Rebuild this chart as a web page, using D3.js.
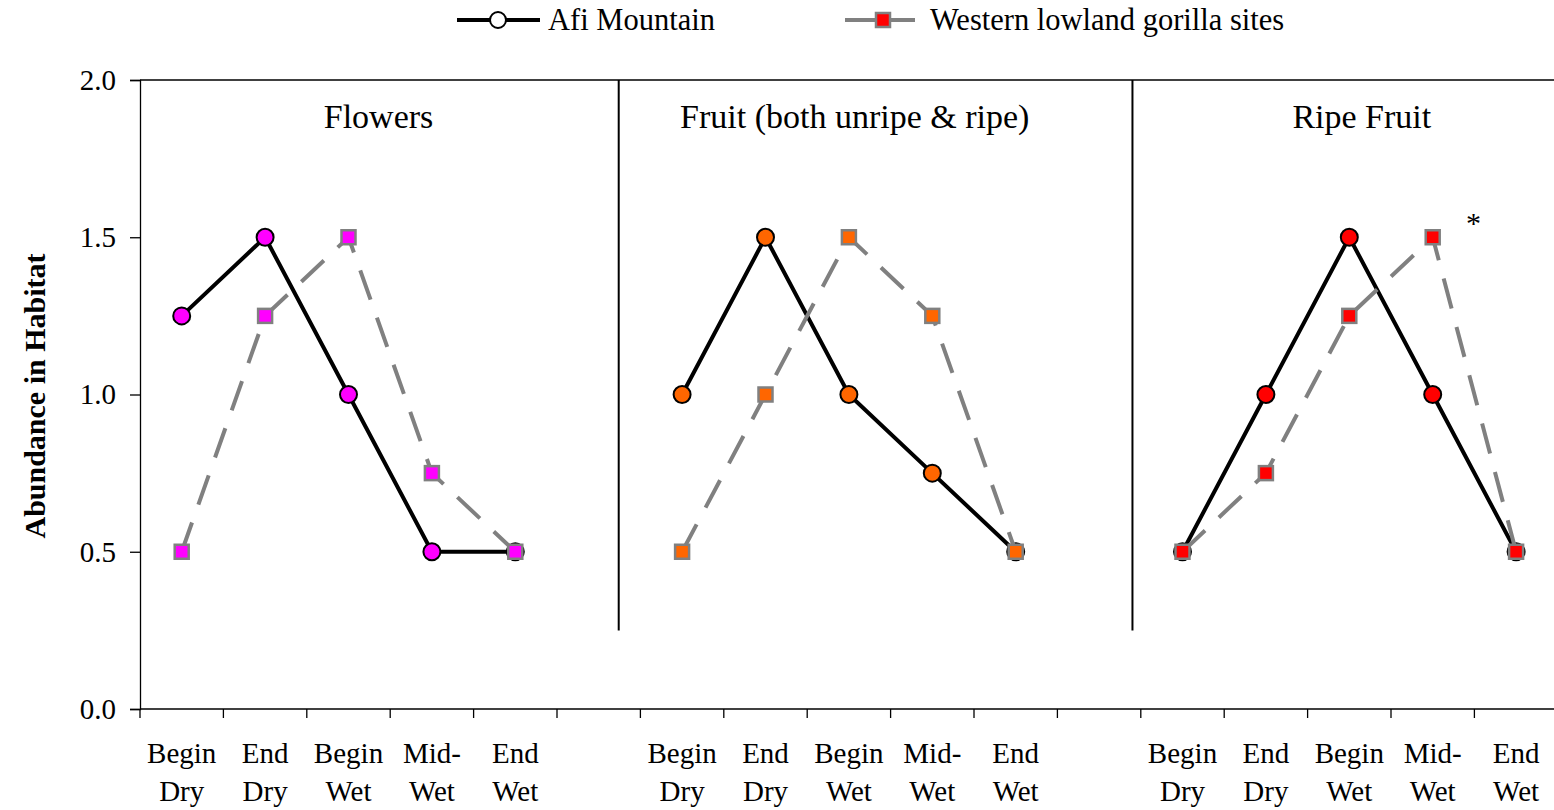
<!DOCTYPE html>
<html>
<head>
<meta charset="utf-8">
<script src="https://cdn.jsdelivr.net/npm/d3@7"></script>
<style>
  html, body { margin: 0; padding: 0; background: #fff; }
  svg { display: block; font-family: "Liberation Serif", "Times New Roman", serif; }
</style>
</head>
<body>
<svg id="chart" width="1554" height="810"></svg>
<script>
// Seasons shown under each panel (two-line labels)
const seasons = [["Begin", "Dry"], ["End", "Dry"], ["Begin", "Wet"], ["Mid-", "Wet"], ["End", "Wet"]];

// Panels: title, marker colour, and the two series
const panelTitles = ["Flowers", "Fruit (both unripe & ripe)", "Ripe Fruit"];
const panelColors = ["#ff00ff", "#ff6600", "#ff0000"];

const afiFlowers = [1.25, 1.5, 1.0, 0.5, 0.5];
const wlgFlowers = [0.5, 1.25, 1.5, 0.75, 0.5];
const afiFruit   = [1.0, 1.5, 1.0, 0.75, 0.5];
const wlgFruit   = [0.5, 1.0, 1.5, 1.25, 0.5];
const afiRipe    = [0.5, 1.0, 1.5, 1.0, 0.5];
const wlgRipe    = [0.5, 0.75, 1.25, 1.5, 0.5];

const afiSeries = [afiFlowers, afiFruit, afiRipe];
const wlgSeries = [wlgFlowers, wlgFruit, wlgRipe];

const yTicks = [0.0, 0.5, 1.0, 1.5, 2.0];
const seriesNames = ["Afi Mountain", "Western lowland gorilla sites"];

// Category slots: 5 seasons, a spacer, 5 seasons, a spacer, 5 seasons
const slots = d3.range(17);
const panelStart = [0, 6, 12];

const svg = d3.select("#chart");
const plotLeft = 140, plotTop = 80, plotBottom = 709;
const bandW = 83.4;
const plotRight = plotLeft + bandW * 17;

const x = d3.scaleBand().domain(slots).range([plotLeft, plotRight]).paddingInner(0).paddingOuter(0);
const xc = i => x(i) + x.bandwidth() / 2;
const xu = u => plotLeft + u * x.step();   // position in slot units
const y = d3.scaleLinear().domain([0, 2]).range([plotBottom, plotTop]);

const fontSize = 29;

// Plot frame top line
svg.append("line")
  .attr("x1", plotLeft).attr("x2", plotRight)
  .attr("y1", y(2)).attr("y2", y(2))
  .attr("stroke", "#000").attr("stroke-width", 1.3);

// Y axis
const yAxis = svg.append("g")
  .attr("transform", `translate(${plotLeft},0)`)
  .call(d3.axisLeft(y).tickValues(yTicks).tickFormat(d3.format(".1f")).tickSize(10).tickPadding(14));
yAxis.select(".domain").attr("stroke", "#000").attr("stroke-width", 1.3);
yAxis.selectAll(".tick line").attr("stroke", "#000").attr("stroke-width", 1.3);
yAxis.selectAll(".tick text")
  .attr("font-family", "Liberation Serif, serif")
  .attr("font-size", fontSize).attr("fill", "#000");

// X axis: ticks at every slot boundary
const xAxisG = svg.append("g").attr("transform", `translate(0,${plotBottom})`);
xAxisG.append("line")
  .attr("x1", plotLeft).attr("x2", plotRight)
  .attr("stroke", "#000").attr("stroke-width", 1.3);
xAxisG.selectAll("line.tick")
  .data(d3.range(18))
  .join("line")
  .attr("class", "tick")
  .attr("x1", d => xu(d)).attr("x2", d => xu(d))
  .attr("y1", 0).attr("y2", 9)
  .attr("stroke", "#000").attr("stroke-width", 1.3);

// Season labels under each panel
panelStart.forEach(s => {
  seasons.forEach((lab, i) => {
    const t = svg.append("text")
      .attr("text-anchor", "middle")
      .attr("font-size", fontSize);
    t.append("tspan").attr("x", xc(s + i)).attr("y", 763).text(lab[0]);
    t.append("tspan").attr("x", xc(s + i)).attr("y", 801).text(lab[1]);
  });
});

// Panel dividers
[5.74, 11.9].forEach(u => {
  svg.append("line")
    .attr("x1", xu(u)).attr("x2", xu(u))
    .attr("y1", y(2)).attr("y2", y(0.25))
    .attr("stroke", "#000").attr("stroke-width", 2);
});

// Panel titles
const titlePos = [2.86, 8.57, 14.65];
panelTitles.forEach((t, i) => {
  svg.append("text")
    .attr("x", xu(titlePos[i])).attr("y", 128)
    .attr("text-anchor", "middle")
    .attr("font-size", 34)
    .text(t);
});

// Y axis title
svg.append("text")
  .attr("transform", `translate(45,396) rotate(-90)`)
  .attr("text-anchor", "middle")
  .attr("font-weight", "bold")
  .attr("font-size", 30)
  .text("Abundance in Habitat");

const line = d3.line().x(d => d[0]).y(d => d[1]);

// Afi Mountain: solid black with circles
afiSeries.forEach((vals, p) => {
  const pts = vals.map((v, i) => [xc(panelStart[p] + i), y(v)]);
  svg.append("path").attr("d", line(pts))
    .attr("fill", "none").attr("stroke", "#000").attr("stroke-width", 4)
    .attr("stroke-linejoin", "round");
  svg.append("g").selectAll("circle").data(pts).join("circle")
    .attr("cx", d => d[0]).attr("cy", d => d[1]).attr("r", 8.5)
    .attr("fill", panelColors[p]).attr("stroke", "#000").attr("stroke-width", 2);
});

// Western lowland gorilla sites: dashed grey with squares
wlgSeries.forEach((vals, p) => {
  const pts = vals.map((v, i) => [xc(panelStart[p] + i), y(v)]);
  svg.append("path").attr("d", line(pts))
    .attr("fill", "none").attr("stroke", "#808080").attr("stroke-width", 4)
    .attr("stroke-dasharray", "31,19");
  svg.append("g").selectAll("rect").data(pts).join("rect")
    .attr("x", d => d[0] - 7).attr("y", d => d[1] - 7)
    .attr("width", 14).attr("height", 14)
    .attr("fill", panelColors[p]).attr("stroke", "#808080").attr("stroke-width", 2.5);
});

// Significance mark on the ripe fruit panel
svg.append("text")
  .attr("x", xu(15.99)).attr("y", 233)
  .attr("text-anchor", "middle")
  .attr("font-size", 30)
  .text("*");

// Legend
const lg = svg.append("g");
lg.append("line").attr("x1", 457).attr("x2", 540).attr("y1", 20).attr("y2", 20)
  .attr("stroke", "#000").attr("stroke-width", 4);
lg.append("circle").attr("cx", 498).attr("cy", 20).attr("r", 8)
  .attr("fill", "#fff").attr("stroke", "#000").attr("stroke-width", 2);
lg.append("text").attr("x", 548).attr("y", 30).attr("font-size", 30.5).text(seriesNames[0]);

lg.append("line").attr("x1", 845).attr("x2", 921).attr("y1", 20).attr("y2", 20)
  .attr("stroke", "#808080").attr("stroke-width", 4).attr("stroke-dasharray", "31,8");
lg.append("rect").attr("x", 876).attr("y", 13).attr("width", 14).attr("height", 14)
  .attr("fill", "#ff0000").attr("stroke", "#808080").attr("stroke-width", 2.5);
lg.append("text").attr("x", 930).attr("y", 30).attr("font-size", 30.5).text(seriesNames[1]);
</script>
</body>
</html>
